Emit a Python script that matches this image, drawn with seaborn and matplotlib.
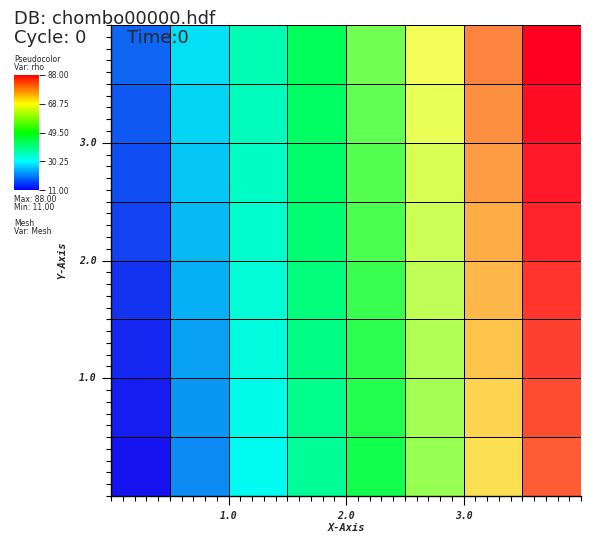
import matplotlib
matplotlib.use("Agg")
import matplotlib.pyplot as plt
from matplotlib.cm import ScalarMappable
from matplotlib.colors import LinearSegmentedColormap, Normalize
from matplotlib.ticker import FixedLocator, MultipleLocator
import pandas as pd
import seaborn as sns

# cell centres of the 8x8 chombo mesh
x_centers = [0.25, 0.75, 1.25, 1.75, 2.25, 2.75, 3.25, 3.75]
y_centers = [0.25, 0.75, 1.25, 1.75, 2.25, 2.75, 3.25, 3.75]

# rho per row, bottom row first
rho = [
    [11, 21, 31, 41, 51, 61, 71, 81],
    [12, 22, 32, 42, 52, 62, 72, 82],
    [13, 23, 33, 43, 53, 63, 73, 83],
    [14, 24, 34, 44, 54, 64, 74, 84],
    [15, 25, 35, 45, 55, 65, 75, 85],
    [16, 26, 36, 46, 56, 66, 76, 86],
    [17, 27, 37, 47, 57, 67, 77, 87],
    [18, 28, 38, 48, 58, 68, 78, 88],
]

x_ticks = [1.0, 2.0, 3.0]
y_ticks = [1.0, 2.0, 3.0]
cbar_ticks = [11.0, 30.25, 49.5, 68.75, 88.0]
rho_min, rho_max = 11.0, 88.0

sns.set_style("ticks")
plt.rcParams["font.family"] = ["DejaVu Sans"]

df = pd.DataFrame(rho, index=y_centers, columns=x_centers)

# VisIt "hot" colour table; the plot itself is lit, which tints it a little
hot = LinearSegmentedColormap.from_list(
    "visit_hot", ["#0000ff", "#00ffff", "#00ff00", "#ffff00", "#ff0000"])
hot_lit = LinearSegmentedColormap.from_list(
    "visit_hot_lit", ["#1612f0", "#00fcf6", "#00ff4c", "#fcff58", "#ff0022"])

fig = plt.figure(figsize=(5.99, 5.41), dpi=100)
ax = fig.add_axes([111 / 599, 1 - 496 / 541, 470 / 599, 471 / 541])
cax = fig.add_axes([14 / 599, 1 - 190 / 541, 25 / 599, 115 / 541])

sns.heatmap(df, ax=ax, cmap=hot_lit, vmin=rho_min, vmax=rho_max,
            linewidths=0.6, linecolor="black", cbar=False)
ax.invert_yaxis()

# map data coordinates onto the heatmap cell grid
dx = x_centers[1] - x_centers[0]
dy = y_centers[1] - y_centers[0]
x0 = x_centers[0] - dx / 2
y0 = y_centers[0] - dy / 2


def gx(v):
    return (v - x0) / dx


def gy(v):
    return (v - y0) / dy


ax.xaxis.set_major_locator(FixedLocator([gx(v) for v in x_ticks]))
ax.yaxis.set_major_locator(FixedLocator([gy(v) for v in y_ticks]))
ax.xaxis.set_minor_locator(MultipleLocator(0.1 / dx))
ax.yaxis.set_minor_locator(MultipleLocator(0.1 / dy))
tick_font = dict(family="DejaVu Sans Mono", weight="bold", style="italic", size=7)
ax.set_xticklabels([f"{v:.1f}" for v in x_ticks], rotation=0, fontdict=tick_font)
ax.set_yticklabels([f"{v:.1f}" for v in y_ticks], rotation=0, fontdict=tick_font)
ax.tick_params(which="major", direction="out", length=6.5, width=0.8,
               color="black", pad=4, bottom=True, left=True)
ax.tick_params(which="minor", direction="out", length=3.5, width=0.8,
               color="black", bottom=True, left=True)
for side in ["left", "bottom"]:
    ax.spines[side].set_visible(True)
    ax.spines[side].set_color("black")
    ax.spines[side].set_linewidth(1)
ax.set_xlabel("X-Axis", fontdict=dict(family="DejaVu Sans Mono", weight="bold",
                                      style="italic", size=7.5), labelpad=2)
ax.set_ylabel("Y-Axis", fontdict=dict(family="DejaVu Sans Mono", weight="bold",
                                      style="italic", size=7.5), labelpad=8)

# legend colour bar uses the unlit table
cbar = fig.colorbar(ScalarMappable(norm=Normalize(rho_min, rho_max), cmap=hot),
                    cax=cax)
cbar.set_ticks(cbar_ticks)
cbar.set_ticklabels([f"{v:.2f}" for v in cbar_ticks])
cbar.outline.set_visible(False)
cax.tick_params(labelsize=5.5, length=4, width=0.6, color="black", pad=2)

# VisIt annotation text
fig.text(14 / 599, 1 - 24 / 541, "DB: chombo00000.hdf", fontsize=13, va="baseline")
fig.text(14 / 599, 1 - 43 / 541, "Cycle: 0", fontsize=13, va="baseline")
fig.text(127 / 599, 1 - 43 / 541, "Time:0", fontsize=13, va="baseline")
small = dict(fontsize=5.5, va="center")
fig.text(14 / 599, 1 - 59 / 541, "Pseudocolor", **small)
fig.text(14 / 599, 1 - 67 / 541, "Var: rho", **small)
fig.text(14 / 599, 1 - 199 / 541, f"Max: {rho_max:.2f}", **small)
fig.text(14 / 599, 1 - 207 / 541, f"Min: {rho_min:.2f}", **small)
fig.text(14 / 599, 1 - 223 / 541, "Mesh", **small)
fig.text(14 / 599, 1 - 231 / 541, "Var: Mesh", **small)

fig.savefig("out.png", dpi=100)
